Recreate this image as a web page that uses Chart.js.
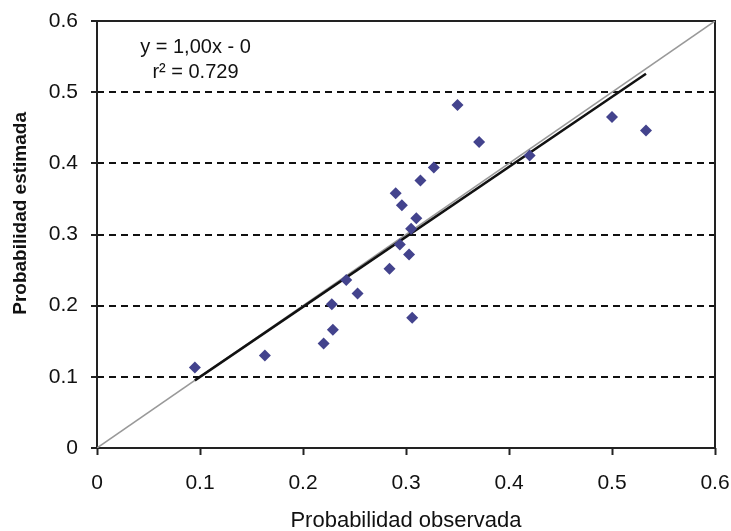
<!DOCTYPE html>
<html>
<head>
<meta charset="utf-8">
<script src="https://cdn.jsdelivr.net/npm/chart.js@4.4.0/dist/chart.umd.min.js"></script>
<style>
  html, body { margin:0; padding:0; background:#fff; }
  #wrap { width:731px; height:531px; }
</style>
</head>
<body>
<div id="wrap"><canvas id="chart" width="731" height="531"></canvas></div>
<script>
// observed vs estimated probability
const obsX = [0.095, 0.163, 0.220, 0.229, 0.228, 0.242, 0.253, 0.284, 0.290, 0.296, 0.310,
              0.305, 0.294, 0.303, 0.306, 0.314, 0.327, 0.350, 0.371, 0.420, 0.500, 0.533];
const estY = [0.113, 0.130, 0.147, 0.166, 0.202, 0.236, 0.217, 0.252, 0.358, 0.341, 0.323,
              0.308, 0.286, 0.272, 0.183, 0.376, 0.394, 0.482, 0.430, 0.411, 0.465, 0.446];

// fitted line and 1:1 line
const regX = [0.095, 0.533];
const regY = [0.095, 0.526];
const diagX = [0, 0.6];
const diagY = [0, 0.6];

const tickVals = [0, 0.1, 0.2, 0.3, 0.4, 0.5, 0.6];
const tickLabels = ['0', '0.1', '0.2', '0.3', '0.4', '0.5', '0.6'];

const eqLines = ['y = 1,00x - 0', 'r\u00B2 = 0.729'];
const eqX = 0.0956;
const eqY = [0.563, 0.528];

const FONT = 'Arial, "Liberation Sans", sans-serif';

function pts(xs, ys){ return xs.map((x,i)=>({x, y: ys[i]})); }

const boxPlugin = {
  id: 'box',
  beforeDatasetsDraw(chart){
    const {ctx, chartArea:a} = chart;
    ctx.save();
    ctx.strokeStyle = '#222';
    ctx.lineWidth = 2;
    ctx.strokeRect(a.left, a.top, a.right - a.left, a.bottom - a.top);
    ctx.restore();
  },
  afterDraw(chart){
    const {ctx, scales} = chart;
    ctx.save();
    ctx.fillStyle = '#111';
    ctx.font = '20px ' + FONT;
    ctx.textAlign = 'center';
    ctx.textBaseline = 'middle';
    eqLines.forEach((t,i)=>{
      ctx.fillText(t, scales.x.getPixelForValue(eqX), scales.y.getPixelForValue(eqY[i]));
    });
    ctx.restore();
  }
};

const setTicks = s => { s.ticks = tickVals.map(v=>({value:v})); };

new Chart(document.getElementById('chart'), {
  type: 'scatter',
  data: {
    datasets: [
      { data: pts(obsX, estY), pointStyle: 'rectRot', pointRadius: 6, pointHoverRadius: 6,
        backgroundColor: '#43438d', borderColor: '#43438d', borderWidth: 0, order: 0 },
      { type: 'line', data: pts(regX, regY), borderColor: '#111', borderWidth: 2.5,
        pointRadius: 0, fill: false, order: 1 },
      { type: 'line', data: pts(diagX, diagY), borderColor: '#999', borderWidth: 1.5,
        pointRadius: 0, fill: false, order: 2 }
    ]
  },
  options: {
    responsive: false,
    animation: false,
    devicePixelRatio: 1,
    layout: { padding: 0 },
    plugins: { legend: { display: false }, tooltip: { enabled: false } },
    scales: {
      x: {
        type: 'linear', min: 0, max: 0.6,
        afterBuildTicks: setTicks,
        afterFit: s => { s.height = 83; s.paddingRight = 16; s.paddingLeft = 0; },
        grid: { drawOnChartArea: false, tickLength: 7, tickColor: '#222', tickWidth: 2 },
        border: { display: false },
        ticks: { padding: 16, color: '#111', font: { family: FONT, size: 21 },
                 callback: (v, i) => tickLabels[i] },
        title: { display: true, text: 'Probabilidad observada', color: '#111',
                 font: { family: FONT, size: 22 }, padding: { top: 0, bottom: -3 } }
      },
      y: {
        type: 'linear', min: 0, max: 0.6,
        afterBuildTicks: setTicks,
        afterFit: s => { s.width = 97; s.paddingTop = 21; s.paddingBottom = 0; },
        grid: {
          color: c => (c.index === 0 || c.index === 6) ? 'rgba(0,0,0,0)' : '#111',
          lineWidth: 2, tickLength: 6, tickColor: '#222', tickWidth: 2
        },
        border: { display: false, dash: [7, 5] },
        ticks: { padding: 13, color: '#111', font: { family: FONT, size: 21 },
                 callback: (v, i) => tickLabels[i] },
        title: { display: true, text: '        Probabilidad estimada', color: '#111',
                 font: { family: FONT, size: 19, weight: 'bold' }, padding: { top: 9, bottom: 0 } }
      }
    }
  },
  plugins: [boxPlugin]
});
</script>
</body>
</html>
